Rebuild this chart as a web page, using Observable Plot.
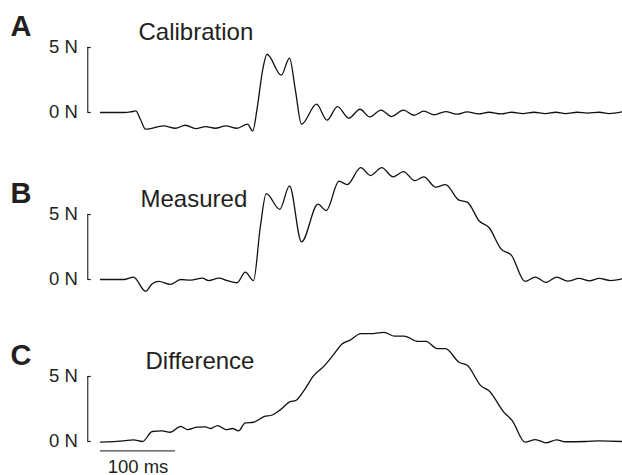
<!DOCTYPE html>
<html><head><meta charset="utf-8">
<script src="https://cdn.jsdelivr.net/npm/d3@7"></script>
<script src="https://cdn.jsdelivr.net/npm/@observablehq/plot@0.6"></script>
<style>
html,body{margin:0;padding:0;background:#fff;}
#chart{position:relative;width:622px;height:475px;overflow:hidden;background:#fff;}
#chart svg{position:absolute;left:0;overflow:visible;}
</style></head><body><div id="chart"></div>
<script>
// ---- data ----
const panelLetters = ["A", "B", "C"];
const panelTitles = ["Calibration", "Measured", "Difference"];
const yTicks = [0, 5];
const yTickLabels = ["0 N", "5 N"];
const scaleBarMs = 100;
const scaleBarLabel = "100 ms";

const calibrationT = [0,31,40,47,53,60,84,100,113,127,140,153,167,182,196,203,209,216,222,241,252,260,268,288,302,316,331,346,359,374,388,404,418,431,445,460,475,489,504,518,534,548,563,578,593,607,620,636,649,665,678,696];
const calibrationN = [0,0,0.04,0.12,-0.5,-1.28,-1.03,-1.21,-0.98,-1.24,-1.08,-1.21,-1.03,-1.21,-0.9,-1.42,0.38,3.2,4.48,2.87,4.18,1.66,-0.9,0.64,-0.59,0.45,-0.44,0.25,-0.34,0.18,-0.31,0.18,-0.21,0.1,-0.18,0.07,-0.13,0.05,-0.11,0.02,-0.11,0.02,-0.08,0.02,-0.08,0.02,-0.08,0.02,-0.05,0.02,-0.08,0.05];

const measuredT = [0,31,44,60,69,78,93,107,120,136,144,158,169,182,193,204,213,221,239,252,268,290,301,318,329,347,360,375,390,404,419,431,447,460,478,489,505,518,534,548,566,580,594,608,623,638,652,665,680,696];
const measuredN = [0,0,0.18,-0.9,-0.33,-0.15,-0.38,0,-0.05,0.1,-0.08,0.1,-0.08,-0.25,0.56,-0.08,4.0,6.6,5.4,7.2,2.9,5.8,5.3,7.56,7.3,8.6,8.0,8.6,7.9,8.3,7.6,7.9,7.1,7.3,6.1,5.95,4.5,4.0,2.36,1.85,-0.15,0.18,-0.23,0.18,-0.13,0.08,-0.1,0.08,-0.08,0.05];

const differenceT = [0,31,44,56,69,82,93,107,116,129,140,147,156,167,176,184,193,204,218,229,240,253,260,271,284,298,311,322,333,347,363,378,392,405,423,434,449,460,478,489,507,518,538,549,566,580,594,608,620,647,665,696];
const differenceN = [-0.05,0.05,0.13,0,0.77,0.82,0.71,1.17,0.92,1.1,1.12,1.0,1.22,0.92,1.0,0.82,1.43,1.48,1.91,2.04,2.45,3.06,3.14,3.9,5.05,5.8,6.7,7.5,7.8,8.3,8.3,8.4,8.1,8.1,7.7,7.7,7.14,7.14,6.1,5.87,4.3,3.9,2.24,1.6,-0.05,0.15,-0.1,0.13,-0.02,0,0.05,0];

// ---- layout ----
const seriesT = [calibrationT, measuredT, differenceT];
const seriesN = [calibrationN, measuredN, differenceN];
const W = 622, H = 162;
const mTop = 6.5, mBottom = 19, mLeft = 87.25, mRight = 0;
const xDomain = [-17, 696];
const yDomain = [-2, 8.5];
const panelTop = [-5.4, 162, 324];
const titleDx = [50.75, 52.75, 57.75];
const font = "'Liberation Sans', Arial, Helvetica, sans-serif";
const ink = "#231f20";

const chart = document.getElementById("chart");

panelTitles.forEach((title, i) => {
  const data = seriesT[i].map((t, j) => ({t, v: seriesN[i][j]}));
  const marks = [
    Plot.ruleX([xDomain[0]], {y1: yTicks[0], y2: yTicks[1], stroke: "#333", strokeWidth: 1.2}),
    Plot.axisY(yTicks, {
      label: null,
      tickSize: -3.5, tickPadding: 13.5, strokeWidth: 1.2,
      tickFormat: (d) => yTickLabels[yTicks.indexOf(d)],
      fontSize: 18.5
    }),
    Plot.line(data, {x: "t", y: "v", curve: "monotone-x", stroke: "#111", strokeWidth: 1.3}),
    Plot.text([panelLetters[i]], {
      frameAnchor: "top-left", dx: 10 - mLeft, dy: 34,
      textAnchor: "start", lineAnchor: "bottom",
      fontSize: 29, fontWeight: "bold", fill: ink
    }),
    Plot.text([title], {
      frameAnchor: "top-left", dx: titleDx[i], dy: 38,
      textAnchor: "start", lineAnchor: "bottom",
      fontSize: 24, fill: ink
    })
  ];
  if (i === panelTitles.length - 1) {
    marks.push(
      Plot.ruleY([{start: 0, end: scaleBarMs}], {x1: "start", x2: "end", y: 0, dy: 9.4, stroke: "#444", strokeWidth: 1.3}),
      Plot.text([scaleBarLabel], {x: scaleBarMs / 2, y: 0, dy: 31, lineAnchor: "bottom", fontSize: 18.5, fill: ink})
    );
  }
  const svg = Plot.plot({
    width: W, height: H,
    marginTop: mTop, marginBottom: mBottom, marginLeft: mLeft, marginRight: mRight,
    x: {domain: xDomain, axis: null},
    y: {domain: yDomain, axis: null},
    style: {fontFamily: font, color: ink, background: "transparent", overflow: "visible"},
    marks
  });
  svg.style.top = panelTop[i] + "px";
  chart.appendChild(svg);
});
</script>
</body></html>
